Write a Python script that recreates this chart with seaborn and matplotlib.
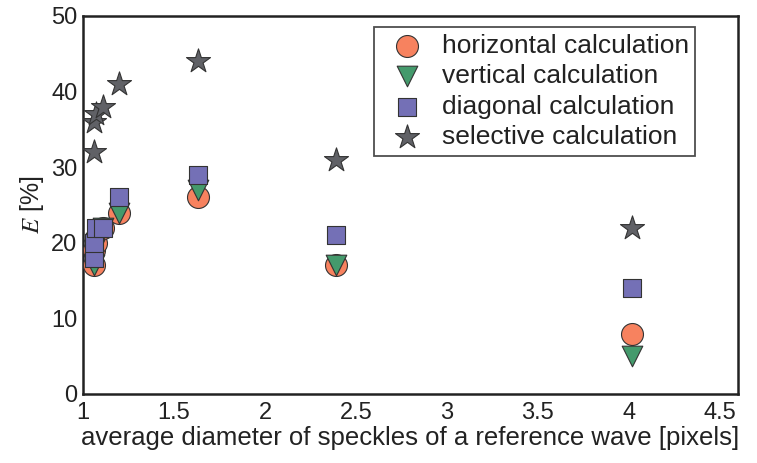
import numpy as np
import matplotlib
matplotlib.use('Agg')
import matplotlib.pyplot as plt
import seaborn as sns

# Data
diameter = [1.06, 1.06, 1.07, 1.11, 1.20, 1.63, 2.39, 4.02]
horizontal = [17, 19, 20, 22, 24, 26, 17, 8]
vertical = [17, 19, 20, 22, 24, 27, 17, 5]
diagonal = [18, 20, 22, 22, 26, 29, 21, 14]
selective = [32, 36, 37, 38, 41, 44, 31, 22]

sns.set_style('white')
plt.rcParams['font.family'] = ['Liberation Sans', 'DejaVu Sans']
plt.rcParams['mathtext.fontset'] = 'stix'

fig = plt.figure(figsize=(7.57, 4.63), dpi=100)
ax = fig.add_axes([83 / 757, 1 - 394 / 463, (738 - 83) / 757, (394 - 16) / 463])

series = [
    (horizontal, 'o', '#f7825f', 'horizontal calculation', 250),
    (vertical, 'v', '#449a6c', 'vertical calculation', 220),
    (diagonal, 's', '#7470b6', 'diagonal calculation', 180),
    (selective, '*', '#606166', 'selective calculation', 330),
]
for vals, m, c, lab, s in series:
    sns.scatterplot(x=diameter, y=vals, marker=m, color=c, s=s, label=lab,
                    edgecolor='#333333', linewidth=0.8, ax=ax, zorder=3)

ax.set_xlim(1, 4.6)
ax.set_ylim(0, 50)
ax.set_xticks(np.arange(1, 4.6, 0.5))
ax.set_xticklabels(['1', '1.5', '2', '2.5', '3', '3.5', '4', '4.5'])
ax.set_yticks(range(0, 51, 10))
ax.tick_params(direction='in', length=6, width=1.5, labelsize=17,
               colors='#222222')
ax.tick_params(axis='x', pad=6)
ax.tick_params(axis='y', pad=4)
for sp in ax.spines.values():
    sp.set_linewidth(1.8)
    sp.set_color('#222222')

ax.set_xlabel('average diameter of speckles of a reference wave [pixels]',
              fontsize=18.5, labelpad=1, color='#222222')
ax.set_ylabel(r'$E$ [%]', fontsize=18, labelpad=4, color='#222222')

leg = ax.legend(loc='upper right', fontsize=19, frameon=True, fancybox=False,
                borderpad=0.25, labelspacing=0.25, handletextpad=0.3,
                borderaxespad=0, bbox_to_anchor=(0.935, 0.971))
leg.get_frame().set_edgecolor('#222222')
leg.get_frame().set_linewidth(1.3)
for t in leg.get_texts():
    t.set_color('#222222')

fig.savefig('out.png', dpi=100)
